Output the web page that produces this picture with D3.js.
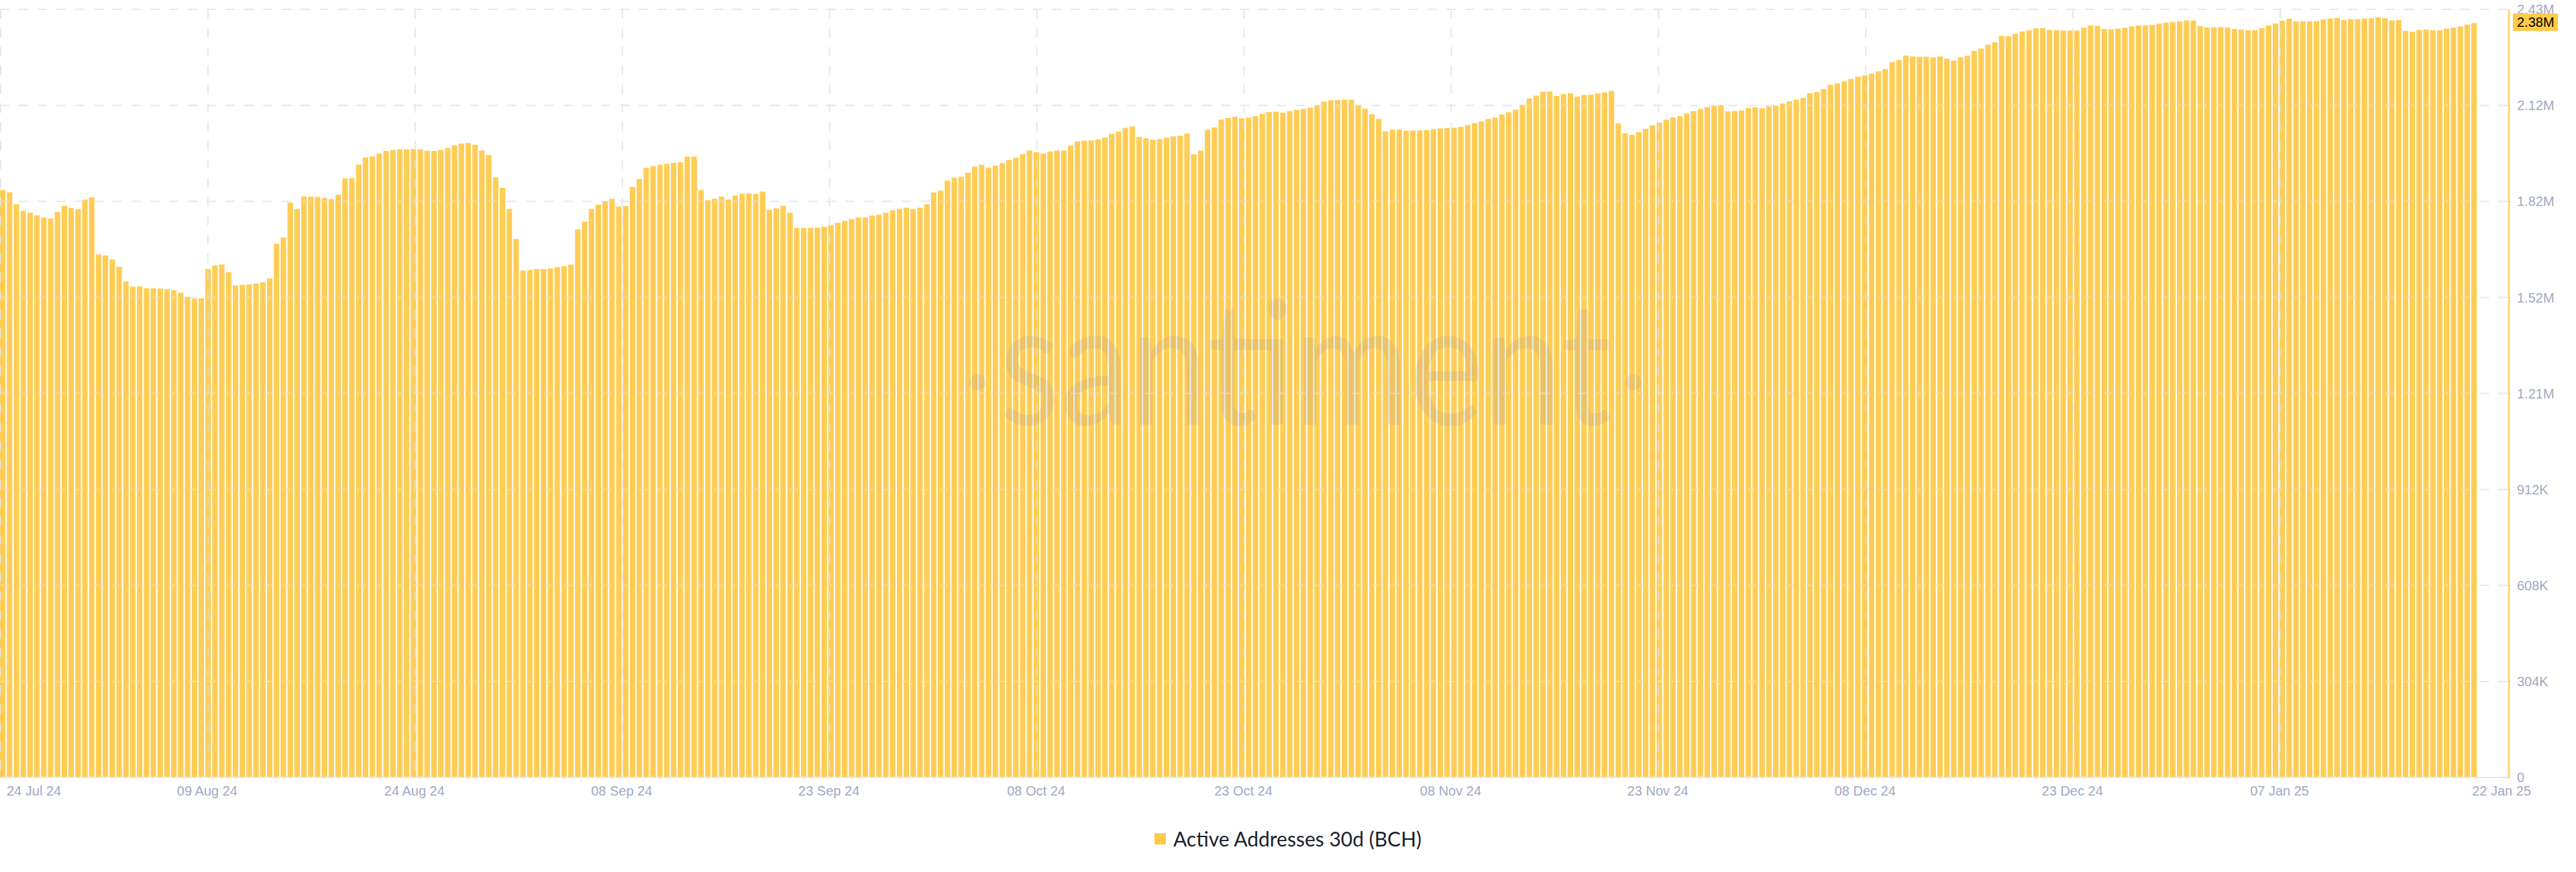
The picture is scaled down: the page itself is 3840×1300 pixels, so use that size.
<!DOCTYPE html>
<html>
<head>
<meta charset="utf-8">
<script src="https://cdn.jsdelivr.net/npm/d3@7"></script>
<style>
    html, body { margin: 0; padding: 0; background: #fff; }
    svg { display: block; }
</style>
</head>
<body>
<div id="chart"></div>
<script>
'use strict';

// Active Addresses 30d (BCH), in thousands, one reading every 12h (24 Jul 24 -> 22 Jan 25)
const activeAddrK = [
    1860, 1853, 1815, 1794, 1788, 1780, 1773, 1770, 1790, 1810,
    1803, 1799, 1830, 1837, 1656, 1653, 1640, 1617, 1570, 1554,
    1555, 1549, 1549, 1548, 1546, 1543, 1535, 1522, 1516, 1517,
    1610, 1621, 1624, 1600, 1558, 1560, 1561, 1564, 1568, 1580,
    1690, 1710, 1820, 1800, 1840, 1839, 1838, 1835, 1831, 1845,
    1897, 1898, 1940, 1963, 1966, 1975, 1984, 1987, 1989, 1989,
    1990, 1989, 1984, 1984, 1987, 1993, 2001, 2007, 2009, 2003,
    1985, 1971, 1900, 1867, 1800, 1705, 1605, 1607, 1610, 1610,
    1612, 1616, 1619, 1624, 1735, 1760, 1800, 1814, 1825, 1832, 1808,
    1809, 1870, 1895, 1930, 1936, 1940, 1943, 1946, 1948,
    1966, 1966, 1860, 1828, 1832, 1839, 1830, 1843, 1848, 1849,
    1848, 1855, 1797, 1802, 1810, 1788, 1740, 1740, 1740, 1741,
    1744, 1748, 1756, 1762, 1768, 1773, 1773, 1779, 1782, 1788,
    1796, 1800, 1804, 1800, 1804, 1815, 1852, 1858, 1890, 1899,
    1902, 1915, 1934, 1940, 1931, 1937, 1945, 1955, 1962, 1974,
    1985, 1980, 1975, 1982, 1985, 1985, 2000, 2014, 2016, 2017,
    2020, 2026, 2038, 2045, 2057, 2061, 2028, 2024, 2019, 2021,
    2026, 2030, 2032, 2039, 1973, 1985, 2051, 2058, 2083, 2088, 2092,
    2087, 2089, 2094, 2101, 2107, 2108, 2105, 2110, 2114, 2117,
    2121, 2129, 2140, 2144, 2145, 2146, 2146, 2130, 2118, 2100,
    2085, 2046, 2051, 2051, 2048, 2048, 2049, 2050, 2052, 2055,
    2056, 2057, 2060, 2066, 2072, 2077, 2085, 2089, 2099, 2106,
    2114, 2130, 2150, 2159, 2171, 2172, 2158, 2164, 2167, 2156,
    2161, 2162, 2166, 2169, 2174, 2071, 2040, 2035, 2044, 2054,
    2065, 2074, 2083, 2090, 2094, 2102, 2110, 2117, 2123, 2126,
    2129, 2109, 2110, 2112, 2120, 2122, 2119, 2125, 2127, 2134,
    2141, 2146, 2152, 2167, 2170, 2180, 2193, 2198, 2204, 2212,
    2219, 2223, 2228, 2236, 2243, 2265, 2272, 2286, 2283, 2282,
    2282, 2280, 2283, 2276, 2270, 2280, 2285, 2301, 2308, 2320,
    2328, 2348, 2347, 2355, 2362, 2366, 2372, 2373, 2367, 2366,
    2365, 2365, 2365, 2374, 2381, 2380, 2370, 2369, 2371, 2374,
    2378, 2381, 2382, 2383, 2387, 2390, 2392, 2394, 2397, 2397,
    2379, 2375, 2375, 2376, 2375, 2370, 2368, 2366, 2366, 2373,
    2381, 2387, 2396, 2402, 2394, 2394, 2394, 2395, 2400, 2403,
    2405, 2399, 2401, 2401, 2403, 2404, 2407, 2404, 2397, 2398,
    2364, 2361, 2367, 2368, 2366, 2366, 2371, 2374, 2378, 2384, 2389
];

const xTickLabels = [
    '24 Jul 24', '09 Aug 24', '24 Aug 24', '08 Sep 24', '23 Sep 24', '08 Oct 24', '23 Oct 24',
    '08 Nov 24', '23 Nov 24', '08 Dec 24', '23 Dec 24', '07 Jan 25', '22 Jan 25'
];

const yTickValues = [0, 304, 608, 912, 1216, 1520, 1824, 2128, 2432];
const yTickLabels = ['0', '304K', '608K', '912K', '1.21M', '1.52M', '1.82M', '2.12M', '2.43M'];

const lastValueLabel = '2.38M';
const seriesName = 'Active Addresses 30d (BCH)';

const W = 3840, H = 1300;
const plot = { left: 0, right: 3740, top: 14, bottom: 1159, barsEnd: 3692, ticksEnd: 3707 };
const yellow = '#FFCB47';
const barColor = '#FFCD55';
const axisFont = '"Liberation Sans", Arial, sans-serif';
const axisColor = '#9FA8C3';
const gridColor = '#DDE1EC';

const svg = d3.select('#chart')
    .append('svg')
    .attr('width', W)
    .attr('height', H)
    .attr('viewBox', `0 0 ${W} ${H}`);

svg.append('rect').attr('width', W).attr('height', H).attr('fill', '#fff');

const x = d3.scaleBand()
    .domain(d3.range(activeAddrK.length))
    .range([plot.left, plot.barsEnd])
    .paddingInner(0.2)
    .paddingOuter(0);

const y = d3.scaleLinear()
    .domain([0, yTickValues[yTickValues.length - 1]])
    .range([plot.bottom, plot.top]);

const xt = d3.scalePoint()
    .domain(xTickLabels)
    .range([plot.left, plot.ticksEnd]);

// bars
svg.append('g')
    .selectAll('rect')
    .data(activeAddrK)
    .enter().append('rect')
    .attr('x', (d, i) => x(i))
    .attr('width', x.bandwidth())
    .attr('y', d => y(d))
    .attr('height', d => y(0) - y(d))
    .attr('fill', barColor);

// watermark
const wm = svg.append('g').attr('fill', '#8C93AA').attr('opacity', 0.17);
const wmText = wm.append('text')
    .attr('font-family', 'Lato, "Open Sans", sans-serif')
    .attr('font-size', 257)
    .attr('text-anchor', 'middle')
    .text('santiment');
const wmWidth = wmText.node().getComputedTextLength();
wmText.attr('transform', `translate(1946,633) scale(${913 / wmWidth},1)`);
wm.selectAll('circle')
    .data([1457, 2435])
    .enter().append('circle')
    .attr('cx', d => d)
    .attr('cy', 570)
    .attr('r', 12);

// grid
const grid = svg.append('g')
    .attr('stroke', gridColor)
    .attr('stroke-width', 2)
    .attr('stroke-dasharray', '14,14')
    .attr('opacity', 0.75);

grid.selectAll('.hgrid')
    .data(yTickValues.slice(1))
    .enter().append('line')
    .attr('class', 'hgrid')
    .attr('x1', plot.left)
    .attr('x2', plot.right)
    .attr('y1', d => y(d))
    .attr('y2', d => y(d));

grid.selectAll('.vgrid')
    .data(xTickLabels.slice(0, -1))
    .enter().append('line')
    .attr('class', 'vgrid')
    .attr('x1', d => xt(d) + 1)
    .attr('x2', d => xt(d) + 1)
    .attr('y1', plot.top)
    .attr('y2', plot.bottom);

// axis lines
svg.append('line')
    .attr('x1', plot.left).attr('x2', plot.right)
    .attr('y1', plot.bottom).attr('y2', plot.bottom)
    .attr('stroke', '#E3E7F0')
    .attr('stroke-width', 2);

svg.append('line')
    .attr('x1', plot.right).attr('x2', plot.right)
    .attr('y1', plot.top).attr('y2', plot.bottom + 1)
    .attr('stroke', yellow)
    .attr('stroke-width', 2);

// y labels
svg.append('g')
    .selectAll('text')
    .data(yTickValues)
    .enter().append('text')
    .attr('x', plot.right + 12)
    .attr('y', d => y(d))
    .attr('dy', '0.36em')
    .attr('font-family', axisFont)
    .attr('font-size', 20)
    .attr('fill', axisColor)
    .text((d, i) => yTickLabels[i]);

// last value badge
const lastY = y(activeAddrK[activeAddrK.length - 1]);
svg.append('rect')
    .attr('x', plot.right + 6)
    .attr('y', lastY - 14)
    .attr('width', 67)
    .attr('height', 26)
    .attr('fill', yellow);
svg.append('text')
    .attr('x', plot.right + 12)
    .attr('y', lastY - 1)
    .attr('dy', '0.36em')
    .attr('font-family', axisFont)
    .attr('font-size', 20)
    .attr('fill', '#000')
    .text(lastValueLabel);

// x labels
const lastTick = xTickLabels.length - 1;
svg.append('g')
    .selectAll('text')
    .data(xTickLabels)
    .enter().append('text')
    .attr('x', (d, i) => i === 0 ? plot.left + 10 : (i === lastTick ? plot.right + 33 : xt(d)))
    .attr('y', plot.bottom + 20)
    .attr('dy', '0.36em')
    .attr('text-anchor', (d, i) => i === 0 ? 'start' : (i === lastTick ? 'end' : 'middle'))
    .attr('font-family', axisFont)
    .attr('font-size', 20)
    .attr('fill', axisColor)
    .text(d => d);

// legend
const legend = svg.append('g');
const legendText = legend.append('text')
    .attr('y', 1251)
    .attr('dy', '0.36em')
    .attr('font-family', 'Lato, "Open Sans", sans-serif')
    .attr('font-size', 30)
    .attr('fill', '#1B1E2C')
    .text(seriesName);
const legendW = 17 + 11 + legendText.node().getComputedTextLength();
const legendX = W / 2 - legendW / 2;
legend.insert('rect', 'text')
    .attr('x', legendX)
    .attr('y', 1242)
    .attr('width', 17)
    .attr('height', 17)
    .attr('fill', yellow);
legendText.attr('x', legendX + 28);
</script>
</body>
</html>
